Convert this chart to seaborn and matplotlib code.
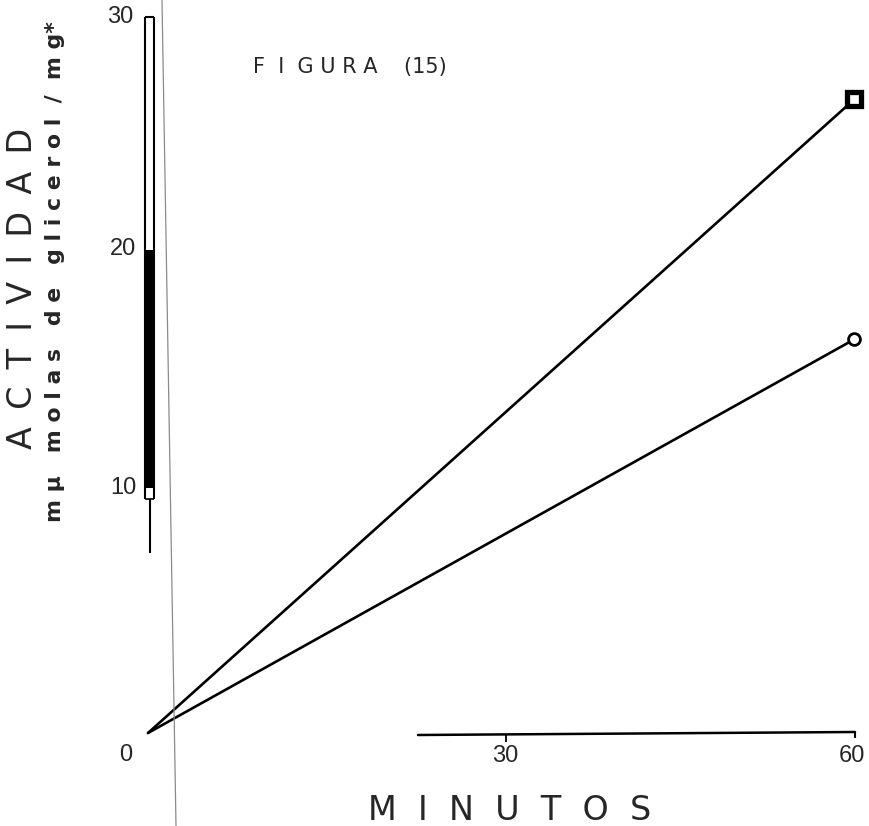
import numpy as np
import pandas as pd
import matplotlib
matplotlib.use("Agg")
import matplotlib.pyplot as plt
import seaborn as sns

# ---- data ----
minutes = [0, 60]
serie_cuadrado = [0, 26.4]
serie_circulo = [0, 16.4]
y_tick_vals = [0, 10, 20, 30]
y_tick_labels = ["0", "10", "20", "30"]
x_tick_labels = ["30", "60"]

sns.set_style("white")
plt.rcParams['font.family'] = ['DejaVu Sans']

W, H = 870, 826
fig = plt.figure(figsize=(W / 100, H / 100), dpi=100)
ax = fig.add_axes([0, 0, 1, 1])

# pixel <-> data helpers (scale of the hand-drawn chart)
X0, Y0, SX, SY = 148, 733, 11.77, 24.0
def X(px):
    return (px - X0) / SX
def Y(py):
    return (Y0 - py) / SY

ax.set_xlim(X(0), X(W))
ax.set_ylim(Y(H), Y(0))
ax.axis("off")

df = pd.DataFrame({
    "min": minutes * 2,
    "act": serie_cuadrado + serie_circulo,
    "serie": ["A"] * 2 + ["B"] * 2,
})

sns.lineplot(data=df, x="min", y="act", units="serie", estimator=None, ax=ax,
             color="black", linewidth=1.9, legend=False)
ax.plot(minutes[-1], serie_cuadrado[-1], marker="s", markersize=10,
        markerfacecolor="white", markeredgecolor="black", markeredgewidth=3.8,
        linestyle="none")
ax.plot(minutes[-1], serie_circulo[-1], marker="o", markersize=8.5,
        markerfacecolor="white", markeredgecolor="black", markeredgewidth=2.0,
        linestyle="none")

# left "axis" bar (as scanned)
xb1, xb2 = X(145.5), X(154.5)
ax.vlines([xb1, xb2], Y(499), Y(17), color="black", linewidth=1.5)
ax.hlines(Y(17), xb1, xb2, color="black", linewidth=1.5)
ax.hlines(Y(499), xb1, xb2, color="black", linewidth=1.2)
ax.vlines((xb1 + xb2) / 2, Y(488), Y(250), color="black", linewidth=7)
ax.vlines((xb1 + xb2) / 2, Y(553), Y(499), color="black", linewidth=1.5)

# grey scan line (slightly slanted)
ax.plot([X(162), X(176)], [Y(0), Y(H)], color="#8a8a8a", linewidth=0.9)

# x axis segment with its two ticks
ax.plot([X(418), X(855)], [Y(735), Y(732)], color="black", linewidth=1.8)
ax.vlines(X(855), Y(738), Y(732), color="black", linewidth=1.5)
ax.vlines(X(506), Y(742), Y(734), color="black", linewidth=1.3)

# tick labels
ty = {0: 755, 10: 488, 20: 249, 30: 17}
tx = {0: 126, 10: 123, 20: 123, 30: 120}
for v, lab in zip(y_tick_vals, y_tick_labels):
    ax.text(X(tx[v]), Y(ty[v]), lab, ha="center", va="center", fontsize=17,
            family="Liberation Sans")
for lab, px in zip(x_tick_labels, [505, 852]):
    ax.text(X(px), Y(756), lab, ha="center", va="center", fontsize=17,
            family="Liberation Sans")

ax.text(X(510), Y(810), "M  I  N  U  T  O  S", ha="center", va="center",
        fontsize=24)
ax.text(X(23), Y(288), " \u2009".join("ACTIVIDAD"), ha="center", va="center",
        fontsize=24, rotation=90)
ax.text(X(55), Y(272), "m μ   m o l a s   d e   g l i c e r o l  /  m g*",
        ha="center", va="center", fontsize=15.8, rotation=90, fontweight="bold")
ax.text(X(350), Y(67), "F  I  G U R A    (15)", ha="center", va="center",
        fontsize=15)

fig.savefig("out.png", dpi=100)
